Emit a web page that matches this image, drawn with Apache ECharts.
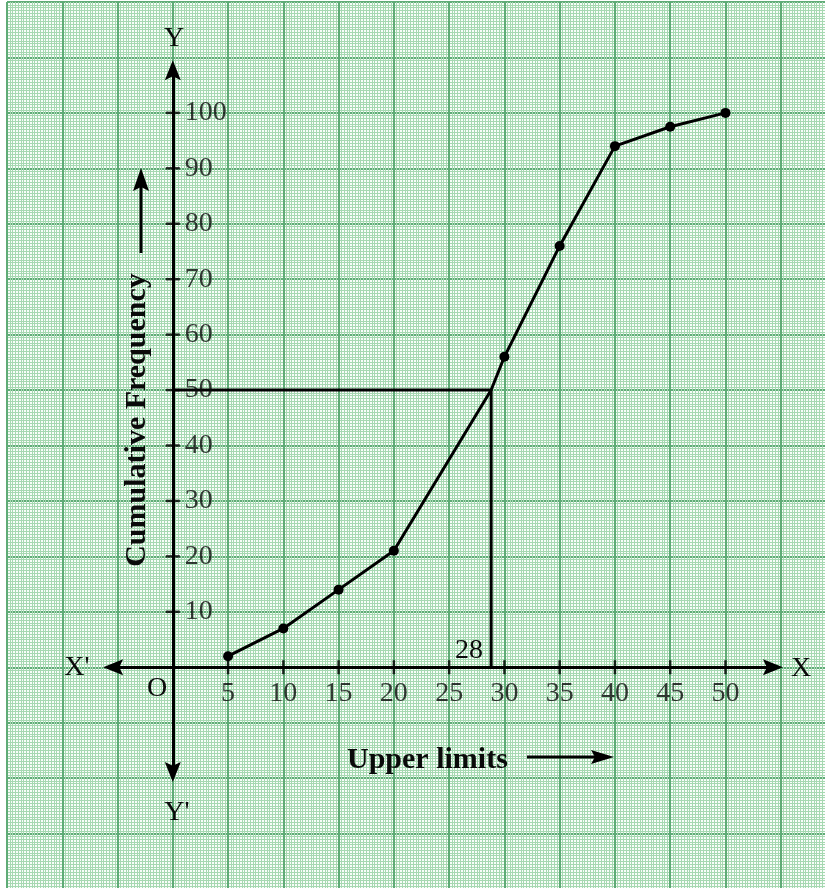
<!DOCTYPE html>
<html><head><meta charset="utf-8">
<script src="https://cdn.jsdelivr.net/npm/echarts@6/dist/echarts.min.js"></script>
<style>html,body{margin:0;padding:0;background:#fff}#c{width:825px;height:888px}</style>
</head><body><div id="c"></div>
<script>
// ---- data ----
const upperLimits = [5, 10, 15, 20, 30, 35, 40, 45, 50];
const cumulativeFrequency = [2, 7, 14, 21, 56, 76, 94, 97.5, 100];
const xTickValues = [5, 10, 15, 20, 25, 30, 35, 40, 45, 50];
const yTickValues = [10, 20, 30, 40, 50, 60, 70, 80, 90, 100];
const medianCF = 50;        // N/2
const medianX = 28.8;       // where the ogive crosses 50 (as drawn)
const medianLabel = '28';

// ---- axis-line extents (layout) ----
const xAxisExtent = [-5.4, 54.3];
const yAxisExtent = [-18.9, 107.7];

const serif = '"Liberation Serif", "DejaVu Serif", serif';
const ink = '#0a0a0a';
const arrowPath = 'path://M10,0 L20,26 L10,21 L0,26 Z';

// ogive points, with the (unmarked) median crossing vertex
const curveData = upperLimits.map((x, i) => [x, cumulativeFrequency[i]]);
const ins = upperLimits.findIndex(x => x > medianX);
curveData.splice(ins, 0, { value: [medianX, medianCF], symbol: 'none' });

const chart = echarts.init(document.getElementById('c'), null, { renderer: 'canvas' });

const paperAxis = (min, max, interval) => ({
  type: 'value', min, max, interval,
  axisLine: { show: false }, axisTick: { show: false }, axisLabel: { show: false },
  splitLine: { show: true, lineStyle: { color: '#5fab76', width: 2 } },
  minorTick: { show: false, splitNumber: 20 },
  minorSplitLine: { show: true, lineStyle: { color: '#a6d8b1', width: 1 } }
});

const txt = (x, y, text, font, align, extra) => Object.assign({
  type: 'text', x, y, z: 100,
  style: { text, font, fill: ink, align: align || 'center', verticalAlign: 'middle' }
}, extra || {});

chart.setOption({
  animation: false,
  backgroundColor: '#ffffff',
  grid: { left: 7, top: 2, width: 829, height: 887, outerBoundsMode: 'none', containLabel: false,
          show: true, backgroundColor: '#f8fdf9', borderWidth: 0 },
  xAxis: paperAxis(-15, 60, 5),
  yAxis: paperAxis(-40, 120, 10),
  series: [
    {
      name: 'axes', type: 'line', data: [[0, 0]], symbol: 'none', lineStyle: { opacity: 0 }, silent: true,
      markLine: {
        silent: true, symbol: [arrowPath, arrowPath], symbolSize: [16, 20],
        label: { show: false }, emphasis: { disabled: true },
        lineStyle: { color: '#000', width: 3, type: 'solid' },
        data: [
          [{ coord: [xAxisExtent[0], 0] }, { coord: [xAxisExtent[1], 0] }],
          [{ coord: [0, yAxisExtent[0]] }, { coord: [0, yAxisExtent[1]] }]
        ]
      }
    },
    {
      name: 'median', type: 'line', symbol: 'none', silent: true,
      data: [[0, medianCF], [medianX, medianCF], [medianX, 0]],
      lineStyle: { color: '#000', width: 3 }
    },
    {
      name: 'xTicks', type: 'scatter', silent: true, z: 10,
      data: xTickValues.map(v => [v, 0]),
      symbol: 'rect', symbolSize: [2.5, 14], itemStyle: { color: '#000' },
      label: { show: true, position: 'bottom', distance: 5, formatter: p => p.value[0],
               fontFamily: serif, fontSize: 28, color: ink }
    },
    {
      name: 'yTicks', type: 'scatter', silent: true, z: 10,
      data: yTickValues.map(v => [0, v]),
      symbol: 'rect', symbolSize: [14, 2.5], itemStyle: { color: '#000' },
      label: { show: true, position: 'right', distance: 5, formatter: p => p.value[1],
               fontFamily: serif, fontSize: 28, color: ink }
    },
    {
      name: 'ogive', type: 'line', data: curveData, z: 5,
      symbol: 'circle', symbolSize: 10,
      itemStyle: { color: '#000' }, lineStyle: { color: '#000', width: 3 }
    }
  ],
  graphic: { elements: [
    txt(174, 39, 'Y', '28px ' + serif),
    txt(177, 813, "Y'", '28px ' + serif),
    txt(77, 668, "X'", '28px ' + serif),
    txt(801, 669, 'X', '28px ' + serif),
    txt(157, 689, 'O', '28px ' + serif),
    txt(483, 651, medianLabel, '28px ' + serif, 'right'),
    txt(137, 420, 'Cumulative Frequency', 'bold 30px ' + serif, 'center', { rotation: Math.PI / 2 }),
    { type: 'line', z: 100, shape: { x1: 141, y1: 253, x2: 141, y2: 186 }, style: { stroke: '#000', lineWidth: 3 } },
    { type: 'polygon', z: 100, shape: { points: [[141, 168], [149, 191], [141, 187], [133, 191]] }, style: { fill: '#000' } },
    txt(347, 760, 'Upper limits', 'bold 30px ' + serif, 'left'),
    { type: 'line', z: 100, shape: { x1: 527, y1: 757, x2: 598, y2: 757 }, style: { stroke: '#000', lineWidth: 3 } },
    { type: 'polygon', z: 100, shape: { points: [[614, 757], [591, 750], [595, 757], [591, 764]] }, style: { fill: '#000' } }
  ] }
});
</script></body></html>
